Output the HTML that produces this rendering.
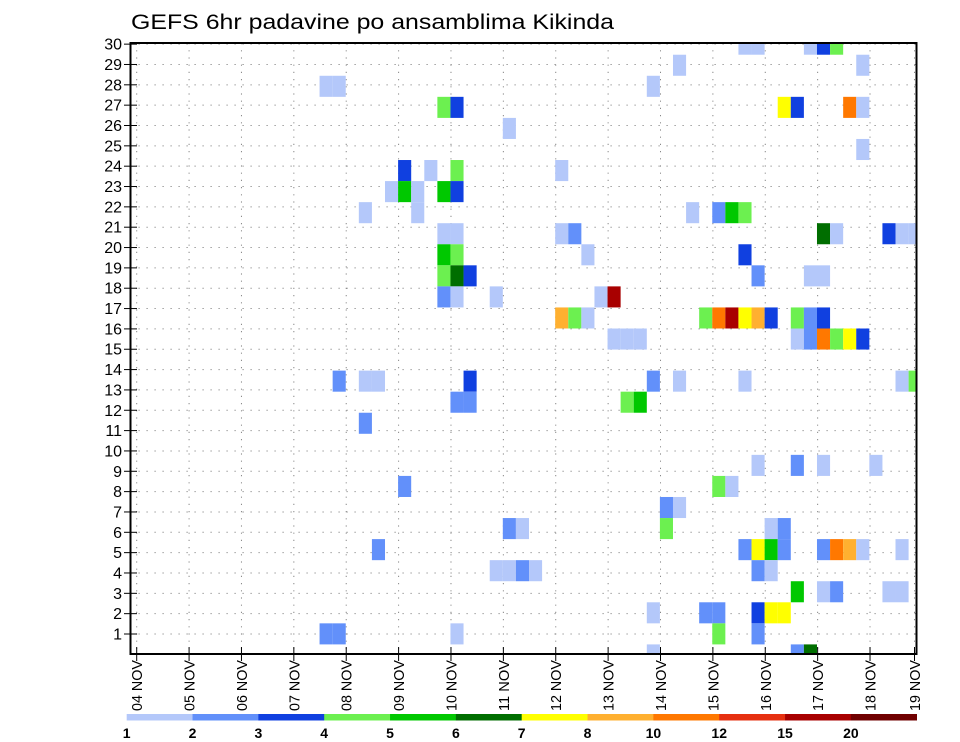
<!DOCTYPE html>
<html><head><meta charset="utf-8"><title>GEFS 6hr padavine</title>
<style>
html,body{margin:0;padding:0;background:#fff;}
svg{display:block;font-family:"Liberation Sans",sans-serif;}
</style></head>
<body>
<svg id="chart" width="960" height="742" viewBox="0 0 960 742" xmlns="http://www.w3.org/2000/svg">
<text x="131" y="29" font-size="21" textLength="483" lengthAdjust="spacingAndGlyphs" fill="#000">GEFS 6hr padavine po ansamblima Kikinda</text>
<g id="grid"></g>
<g id="cells"></g>
<rect x="130.5" y="43" width="786" height="611" fill="none" stroke="#000" stroke-width="2"/>
<g id="axes"></g>
<g id="colorbar"></g>
</svg>
<script>
// ---- data ----
const dayLabels = ["04 NOV","05 NOV","06 NOV","07 NOV","08 NOV","09 NOV","10 NOV","11 NOV","12 NOV","13 NOV","14 NOV","15 NOV","16 NOV","17 NOV","18 NOV","19 NOV"];
const memberLabels = [1,2,3,4,5,6,7,8,9,10,11,12,13,14,15,16,17,18,19,20,21,22,23,24,25,26,27,28,29,30];
const levelLabels = [1,2,3,4,5,6,7,8,10,12,15,20];
const levelColors = ["#b4c8fa","#6290fa","#1040e0","#6cf050","#00c800","#006e00","#ffff00","#ffb030","#ff7800","#e63010","#a80000","#700000"];
// cells: ensemble member band (0 = bottom), 6-hour step index from 04 NOV 00z, precipitation (mm)
const cellMember = [
29,29,29,29,29,
28,28,
27,27,27,
26,26,26,26,26,26,
25,24,
23,23,23,23,
22,22,22,22,22,
21,21,21,21,21,21,
20,20,20,20,20,20,20,20,20,
19,19,19,19,
18,18,18,18,18,18,
17,17,17,17,17,
16,16,16,16,16,16,16,16,16,16,16,16,
15,15,15,15,15,15,15,15,15,
13,13,13,13,13,13,13,13,13,
12,12,12,12,
11,
9,9,9,9,
8,8,8,
7,7,
6,6,6,6,6,
5,5,5,5,5,5,5,5,5,5,
4,4,4,4,4,4,
3,3,3,3,3,
2,2,2,2,2,2,
1,1,1,1,1,
0,0,0];
const cellStep = [
46,47,51,52,53,
41,55,
14,15,39,
23,24,49,50,54,55,
28,55,
20,22,24,32,
19,20,21,23,24,
17,21,42,44,45,46,
23,24,32,33,52,53,57,58,59,
23,24,34,46,
23,24,25,47,51,52,
23,24,27,35,36,
32,33,34,43,44,45,46,47,48,50,51,52,
36,37,38,50,51,52,53,54,55,
15,17,18,25,39,41,46,58,59,
24,25,37,38,
17,
47,50,52,56,
20,44,45,
40,41,
28,29,40,48,49,
18,46,47,48,49,52,53,54,55,58,
27,28,29,30,47,48,
50,52,53,57,58,
39,43,44,47,48,49,
14,15,24,44,47,
39,50,51];
const cellValue = [
1.5,1.5,1.5,3.5,4.5,
1.5,1.5,
1.5,1.5,1.5,
4.5,3.5,7.5,3.5,11,1.5,
1.5,1.5,
3.5,1.5,4.5,1.5,
1.5,5.5,1.5,5.5,3.5,
1.5,1.5,1.5,2.5,5.5,4.5,
1.5,1.5,1.5,2.5,6.5,1.5,3.5,1.5,1.5,
5.5,4.5,1.5,3.5,
4.5,6.5,3.5,2.5,1.5,1.5,
2.5,1.5,1.5,1.5,17,
9,4.5,1.5,4.5,11,17,7.5,9,3.5,4.5,2.5,3.5,
1.5,1.5,1.5,1.5,2.5,11,4.5,7.5,3.5,
2.5,1.5,1.5,3.5,2.5,1.5,1.5,1.5,4.5,
2.5,2.5,4.5,5.5,
2.5,
1.5,2.5,1.5,1.5,
2.5,4.5,1.5,
2.5,1.5,
2.5,1.5,4.5,1.5,2.5,
2.5,2.5,7.5,5.5,2.5,2.5,11,9,1.5,1.5,
1.5,1.5,2.5,1.5,2.5,1.5,
5.5,1.5,2.5,1.5,1.5,
1.5,2.5,2.5,3.5,7.5,7.5,
2.5,2.5,1.5,4.5,2.5,
1.5,2.5,6.5];

// ---- layout / scales ----
const NS="http://www.w3.org/2000/svg";
const frame={left:130.5,right:916.5,top:43,bottom:654};
function xStep(c){return 136.3 + c*13.09;}
const stepW=13.09;
function yBand(b){return 644.4 - b*21.06;}
const bandH=21.06;
function yLabel(i){return 634 - i*20.34;}
function xDay(i){return Math.min(136.7 + i*52.38, 914.5);}
function colorFor(v){
  let idx=0;
  for(let k=0;k<levelLabels.length;k++){ if(v>=levelLabels[k]) idx=k; }
  return levelColors[idx];
}
function mk(tag,attrs,parent){const e=document.createElementNS(NS,tag);for(const k in attrs)e.setAttribute(k,attrs[k]);parent.appendChild(e);return e;}

// grid
const grid=document.getElementById('grid');
memberLabels.forEach((m,i)=>{
  const y=yLabel(i);
  const l=mk('line',{x1:frame.left,x2:frame.right,y1:y,y2:y,stroke:'#888','stroke-width':1,'stroke-dasharray':'1.2 6.8'},grid);
  
  
});
dayLabels.forEach((d,i)=>{
  const x=xDay(i);
  const l=mk('line',{x1:x,x2:x,y1:frame.top,y2:frame.bottom,stroke:'#888','stroke-width':1,'stroke-dasharray':'1.2 6'},grid);
  
  
});

// cells
const cells=document.getElementById('cells');
for(let i=0;i<cellValue.length;i++){
  let x0=xStep(cellStep[i]), x1=x0+stepW;
  let y0=yBand(cellMember[i]), y1=y0+bandH;
  x1=Math.min(x1,frame.right); y0=Math.max(y0,frame.top); y1=Math.min(y1,frame.bottom);
  const r=mk('rect',{x:x0,y:y0,width:x1-x0,height:y1-y0,fill:colorFor(cellValue[i])},cells);
  
  
}

// axes
const axes=document.getElementById('axes');
memberLabels.forEach((m,i)=>{
  const y=yLabel(i);
  const t=mk('line',{x1:124,x2:137,y1:y,y2:y,stroke:'#000','stroke-width':1},axes);
  
  
  const tx=mk('text',{x:122,y:y+5.5,'font-size':16,'text-anchor':'end',fill:'#000'},axes);
  tx.textContent=m;
  
  
});
dayLabels.forEach((d,i)=>{
  const x=xDay(i);
  const t=mk('line',{x1:x,x2:x,y1:647,y2:661,stroke:'#000','stroke-width':1},axes);
  
  
  const tx=mk('text',{x:0,y:0,'font-size':15,fill:'#000',transform:`translate(${x+5.5},711) rotate(-90)`,textLength:51,lengthAdjust:'spacingAndGlyphs'},axes);
  tx.textContent=d;
  
  
});

// colorbar
const cb=document.getElementById('colorbar');
const cbL=126.7, cbR=916.7, segW=(cbR-cbL)/levelColors.length;
levelColors.forEach((c,i)=>{
  const r=mk('rect',{x:cbL+i*segW,y:714,width:segW+0.3,height:6.5,fill:c},cb);
  
  
});
levelLabels.forEach((v,i)=>{
  const tx=mk('text',{x:cbL+i*segW,y:738,'font-size':14,'font-weight':'bold','text-anchor':'middle',fill:'#000'},cb);
  tx.textContent=v;
  
  
});
</script>
</body></html>
